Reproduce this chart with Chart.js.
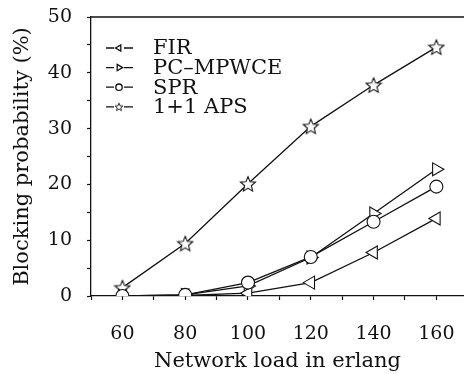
<!DOCTYPE html>
<html>
<head>
<meta charset="utf-8">
<script src="https://cdn.jsdelivr.net/npm/chart.js@4"></script>
<style>
  html, body { margin: 0; padding: 0; background: #fff; overflow: hidden; }
  #grafico { display: block; }
</style>
</head>
<body>
<canvas id="grafico" width="464" height="374"></canvas>
<script>
// data
const loads = [60, 80, 100, 120, 140, 160]
const fir = [0, 0.1, 0.5, 2.4, 7.8, 13.9]
const pcMpwce = [0, 0.2, 1.8, 6.9, 14.8, 22.7]
const spr = [0, 0.2, 2.4, 7.0, 13.3, 19.6]
const aps = [1.5, 9.4, 20.1, 30.4, 37.8, 44.6]
const seriesNames = ['FIR', 'PC\u2013MPWCE', 'SPR', '1+1 APS']
const xTickValues = [50, 60, 70, 80, 90, 100, 110, 120, 130, 140, 150, 160]

const fontName = "'DejaVu Serif', serif"

// five point star as an image, chart.js 'star' is an asterisk
function makeStar(size, lw) {
    const c = document.createElement('canvas')
    c.width = size
    c.height = size
    const g = c.getContext('2d')
    const cx = size / 2, cy = size / 2 + size * 0.04
    const R = size / 2 - lw, r = R * 0.45
    g.beginPath()
    for (let i = 0; i < 10; i++) {
        const a = -Math.PI / 2 + i * Math.PI / 5
        const rr = i % 2 ? r : R
        g.lineTo(cx + rr * Math.cos(a), cy + rr * Math.sin(a))
    }
    g.closePath()
    g.fillStyle = '#fff'
    g.fill()
    g.lineWidth = lw
    g.strokeStyle = '#111'
    g.stroke()
    return c
}
const bigStar = makeStar(18, 1.1)
const smallStar = makeStar(10, 0.9)

function toPts(arr) {
    return arr.map((v, i) => ({ x: loads[i], y: v }))
}

const markers = [
    { style: 'triangle', rot: -90, r: 7.5 },
    { style: 'triangle', rot: 90, r: 7.5 },
    { style: 'circle', rot: 0, r: 6.5 },
    { style: bigStar, rot: 0, r: 9 }
]
const legendMarks = [
    { pointStyle: 'triangle', rotation: -90, radius: 3.6, borderWidth: 0.9 },
    { pointStyle: 'triangle', rotation: 90, radius: 3.6, borderWidth: 0.9 },
    { pointStyle: 'circle', rotation: 0, radius: 3.2, borderWidth: 0.9 },
    { pointStyle: smallStar, rotation: 0, radius: 5, borderWidth: 0.9 }
]

const allData = [fir, pcMpwce, spr, aps]
const datasets = allData.map((d, i) => ({
    label: seriesNames[i],
    data: toPts(d),
    borderColor: '#111',
    borderWidth: 1.3,
    backgroundColor: '#fff',
    pointBackgroundColor: '#fff',
    pointBorderColor: '#111',
    pointBorderWidth: 1.1,
    pointStyle: markers[i].style,
    pointRotation: markers[i].rot,
    pointRadius: markers[i].r,
    tension: 0,
    order: [1, 2, 0, 3][i]
}))

// top frame line + in-plot legend
const extras = {
    id: 'extras',
    afterDraw(chart) {
        const ctx = chart.ctx
        const a = chart.chartArea
        ctx.save()
        ctx.strokeStyle = '#111'
        ctx.lineWidth = 1.3
        ctx.beginPath()
        ctx.moveTo(a.left, a.top)
        ctx.lineTo(chart.width, a.top)
        ctx.stroke()

        ctx.font = '21px ' + fontName
        ctx.fillStyle = '#111'
        ctx.textBaseline = 'middle'
        for (let i = 0; i < seriesNames.length; i++) {
            const y = 48 + i * 19.6
            ctx.lineWidth = 1.3
            ctx.beginPath()
            ctx.moveTo(106, y)
            ctx.lineTo(114, y)
            ctx.moveTo(124, y)
            ctx.lineTo(133, y)
            ctx.stroke()
            ctx.fillStyle = '#fff'
            ctx.strokeStyle = '#111'
            Chart.helpers.drawPoint(ctx, legendMarks[i], 119, y)
            ctx.fillStyle = '#111'
            ctx.fillText(seriesNames[i], 153, y + 1)
        }
        ctx.restore()
    }
}

const ctx = document.getElementById('grafico')

new Chart(ctx, {
    type: 'line',
    data: { datasets: datasets },
    options: {
        responsive: false,
        animation: false,
        devicePixelRatio: 1,
        layout: { autoPadding: false, padding: { left: 0, top: 17, right: 0, bottom: 0 } },
        plugins: {
            legend: { display: false },
            tooltip: { enabled: false }
        },
        scales: {
            x: {
                type: 'linear',
                min: 50,
                max: 168.8,
                afterBuildTicks: s => { s.ticks = xTickValues.map(v => ({ value: v })) },
                afterFit: s => { s.height = 78; s.paddingLeft = 0; s.paddingRight = 0 },
                border: { color: '#111', width: 1.3 },
                grid: { drawOnChartArea: false, drawTicks: true, tickLength: 4, tickColor: '#111', tickWidth: 1.2 },
                ticks: {
                    autoSkip: false,
                    maxRotation: 0,
                    padding: 23,
                    color: '#111',
                    font: { family: fontName, size: 19 },
                    callback: v => (v % 20 === 0 && v >= 60) ? v : ''
                },
                title: {
                    display: true,
                    text: 'Network load in erlang',
                    color: '#111',
                    font: { family: fontName, size: 21 },
                    padding: { top: 0, bottom: 0 }
                }
            },
            y: {
                min: 0,
                max: 50,
                afterFit: s => { s.width = 91; s.paddingTop = 0; s.paddingBottom = 0 },
                border: { color: '#111', width: 1.3 },
                grid: { drawOnChartArea: false, drawTicks: true, tickLength: 4, tickColor: '#111', tickWidth: 1.2 },
                ticks: {
                    stepSize: 5,
                    autoSkip: false,
                    padding: 15,
                    color: '#111',
                    font: { family: fontName, size: 19 },
                    callback: v => v % 10 === 0 ? v : ''
                },
                title: {
                    display: true,
                    text: 'Blocking probability (%)',
                    color: '#111',
                    font: { family: fontName, size: 21 },
                    padding: { top: 10, bottom: 0 }
                }
            }
        }
    },
    plugins: [extras]
});
</script>
</body>
</html>
